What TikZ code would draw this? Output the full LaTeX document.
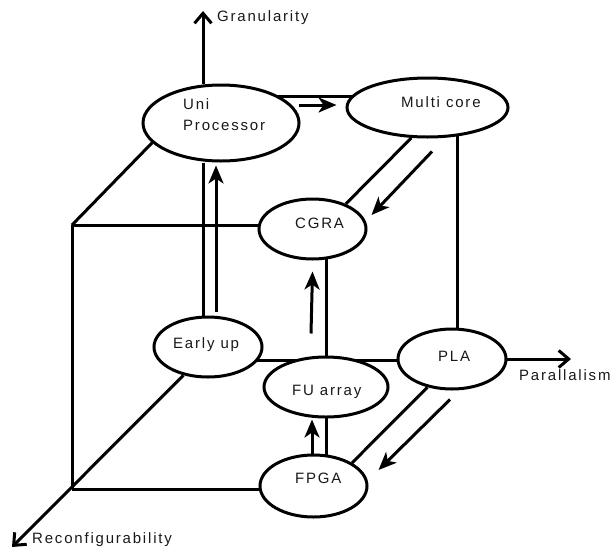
\documentclass[tikz,border=0pt]{standalone}
\usepackage{fontspec}
\newfontfamily\lblfont{Liberation Sans}[LetterSpace=12]
\usetikzlibrary{arrows.meta,calc,shapes.geometric,backgrounds}

\tikzset{
  conn/.style={line width=3pt},
  flow/.style={conn, -{Stealth[length=18pt,width=15pt,inset=5pt]}},
  axis/.style={conn, -{Straight Barb[length=10pt,width=17pt]}},
  box/.style={ellipse, draw, line width=3pt, fill=white, inner sep=0pt},
  lbl/.style={inner sep=0pt, text=black!90, font=\lblfont\fontsize{15}{21}\selectfont}
}

\begin{document}
\begin{tikzpicture}[x=1pt,y=-1pt]
  \useasboundingbox (0,0) rectangle (610,549);

  % processing elements
  \node[box, minimum width=156pt, minimum height=76pt] (up)  at (221,123)   {};
  \node[box, minimum width=161pt, minimum height=59pt] (mc)  at (427.5,107.5) {};
  \node[box, minimum width=107pt, minimum height=60pt] (cg)  at (312.5,229) {};
  \node[box, minimum width=108pt, minimum height=60pt] (eu)  at (208,347)   {};
  \node[box, minimum width=124pt, minimum height=60pt] (fu)  at (326,387)   {};
  \node[box, minimum width=108pt, minimum height=60pt] (pla) at (452,359)   {};
  \node[box, minimum width=107pt, minimum height=62pt] (fp)  at (313.5,486) {};

  % element names
  \node[lbl, anchor=north west, align=left] (up-t) at (183,98.5) {Uni\\Processor};
  \node[lbl, anchor=base west] (mc-t)  at (401,107) {Multi core};
  \node[lbl, anchor=base west] (cg-t)  at (295,228) {CGRA};
  \node[lbl, anchor=base west] (eu-t)  at (173,348) {Early up};
  \node[lbl, anchor=base west] (fu-t)  at (292,395) {FU array};
  \node[lbl, anchor=base west] (pla-t) at (438,361) {PLA};
  \node[lbl, anchor=base west] (fp-t)  at (295,483) {FPGA};

  % axis names
  \node[lbl, anchor=base west] (gran) at (217,21)  {Granularity};
  \node[lbl, anchor=base west] (par)  at (519,380) {Parallalism};
  \node[lbl, anchor=base west] (rec)  at (32,543)  {Reconfigurability};

  % cube corners and axis tips
  \coordinate (gtip) at (203,11);
  \coordinate (ptip) at (571,359);
  \coordinate (rtip) at (12,547);
  \coordinate (btl)  at (72,225);
  \coordinate (bbl)  at (72,489);

  \begin{pgfonlayer}{background}
    % axes
    \draw[axis] (up.north -| gtip) -- (gtip);
    \draw[axis] (pla.center) -- (ptip);
    \draw[axis] (eu.229) -- (rtip);

    % cube edges
    \draw[conn] (gtip |- up.south) -- (gtip |- eu.north);
    \draw[conn] ([yshift=27pt]up.center) -- ([yshift=27pt]up.center -| mc.center);
    \draw[conn] (mc.242) -- (cg.37);
    \draw[conn] ([xshift=5pt]pla.center) -- ([xshift=5pt]pla.center |- mc.center);
    \draw[conn] (up.196) -- (btl);
    \draw[conn] (btl) -- (btl -| cg.center);
    \draw[conn] (btl) -- (bbl);
    \draw[conn] (bbl) -- (bbl -| fp.center);
    \draw[conn] ([yshift=-13pt]eu.center) -- ([yshift=-13pt]eu.center -| pla.center);
    \draw[conn] (fu.center |- cg.center) -- (fu.center |- fp.center);
    \draw[conn] (pla.229) -- (fp.31);

    % transitions
    \draw[flow] ($(eu.north)+(8,-4)$) -- ($(up.south)+(-5,3)$);
    \draw[flow] ($(up.east)+(-2,-18)$) -- ($(mc.west)+(-9,-2.5)$);
    \draw[flow] ($(mc.south)+(4.5,13)$) -- ($(cg.east)+(4,-14)$);
    \draw[flow] ($(fu.north)+(-15,-22)$) -- ($(cg.south)+(0,11)$);
    \draw[flow] ($(fp.north)+(-1.5,0)$) -- ($(fu.south)+(-14,1)$);
    \draw[flow] ($(pla.south)+(-2,9)$) -- ($(fp.east)+(10,-16)$);
  \end{pgfonlayer}
\end{tikzpicture}
\end{document}
